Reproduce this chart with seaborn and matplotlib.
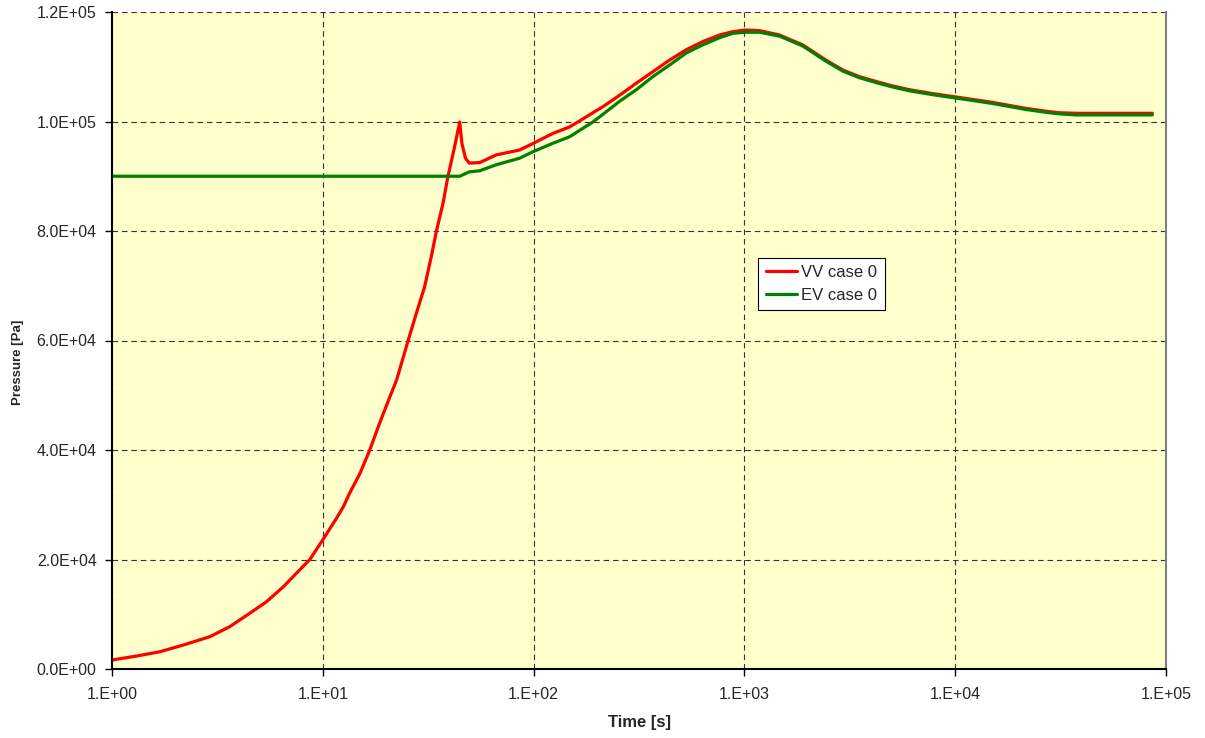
import matplotlib
matplotlib.use("Agg")
import matplotlib.pyplot as plt
import seaborn as sns
import pandas as pd

# Pressure histories (time in s, pressure in Pa)
t_vv = [1.0, 1.31, 1.69, 2.18, 2.91, 3.62, 4.51, 5.41, 6.49, 7.5, 8.68, 10.0,
        11.6, 12.5, 13.4, 15.0, 16.7, 18.6, 20.8, 22.4, 25.4, 27.8, 30.4,
        32.7, 34.6, 37.2, 39.2, 42.2, 44.6, 45.7, 47.5, 49.5, 55.5, 66.5,
        85.9, 99.6, 123, 148, 162, 213, 256, 307, 368, 441, 529, 635, 762,
        880, 1000, 1180, 1466, 1890, 2110, 2440, 2930, 3510, 4220, 5050,
        6070, 7820, 10000, 15000, 21600, 27900, 31100, 37300, 44800, 86100]
p_vv = [1640, 2370, 3160, 4380, 5900, 7730, 10200, 12300, 15000, 17500,
        20000, 23600, 27500, 29600, 32100, 35700, 40000, 44900, 49700, 52800,
        60000, 65000, 69800, 75300, 80000, 85100, 89900, 95400, 99900, 96000,
        93300, 92400, 92500, 93900, 94800, 96000, 97800, 99000, 99900, 102700,
        104800, 107000, 109100, 111200, 113100, 114600, 115800, 116400,
        116700, 116600, 115800, 114000, 112800, 111200, 109400, 108200,
        107300, 106500, 105800, 105100, 104500, 103500, 102400, 101800,
        101600, 101500, 101500, 101500]

t_ev = [1.0, 44.6, 49.5, 55.5, 66.5, 85.9, 99.6, 123, 148, 191, 213, 256,
        307, 368, 441, 529, 635, 762, 880, 1000, 1180, 1466, 1890, 2110,
        2440, 2930, 3510, 4220, 5050, 6070, 7820, 10000, 15000, 21600,
        27900, 31100, 37300, 44800, 86100]
p_ev = [90000, 90000, 90800, 91000, 92100, 93300, 94500, 96000, 97200,
        99900, 101300, 103700, 105800, 108200, 110300, 112500, 114000,
        115300, 116100, 116300, 116300, 115600, 113800, 112600, 111000,
        109200, 108000, 107100, 106300, 105600, 104900, 104300, 103300,
        102200, 101600, 101400, 101200, 101200, 101200]

series_names = ["VV case 0", "EV case 0"]
series_colors = ["#FF0000", "#008000"]

df = pd.concat([
    pd.DataFrame({"Time": t_vv, "Pressure": p_vv, "Series": series_names[0]}),
    pd.DataFrame({"Time": t_ev, "Pressure": p_ev, "Series": series_names[1]}),
], ignore_index=True)

sns.set_style("ticks")
plt.rcParams["font.family"] = ["Liberation Sans", "DejaVu Sans"]

fig = plt.figure(figsize=(12.05, 7.38), dpi=100)
ax = fig.add_axes([112 / 1205, 1 - 669 / 738, (1166 - 112) / 1205, (669 - 12) / 738])
ax.set_facecolor("#FFFFCC")

sns.lineplot(data=df, x="Time", y="Pressure", hue="Series",
             palette=dict(zip(series_names, series_colors)),
             estimator=None, sort=False, linewidth=2.3, ax=ax)

ax.set_xscale("log")
ax.set_xlim(1, 1e5)
ax.set_ylim(0, 1.2e5)

xt = [1, 10, 100, 1000, 10000, 100000]
ax.set_xticks(xt)
ax.set_xticklabels(["1.E+00", "1.E+01", "1.E+02", "1.E+03", "1.E+04", "1.E+05"])
ax.xaxis.set_minor_locator(matplotlib.ticker.NullLocator())
yt = [0, 20000, 40000, 60000, 80000, 100000, 120000]
ax.set_yticks(yt)
ax.set_yticklabels(["0.0E+00", "2.0E+04", "4.0E+04", "6.0E+04", "8.0E+04",
                    "1.0E+05", "1.2E+05"])

ax.tick_params(axis="both", labelsize=11.5, direction="out", length=5,
               width=1, color="black", pad=6)
ax.tick_params(axis="x", pad=8)

ax.grid(True, which="major", color="#333333", linestyle=(0, (5, 3.5)),
        linewidth=0.8)
ax.set_axisbelow(True)

for s in ["left", "bottom"]:
    ax.spines[s].set_color("black")
    ax.spines[s].set_linewidth(1.5)
ax.spines["top"].set_visible(False)
ax.spines["right"].set_color("#808080")
ax.spines["right"].set_linewidth(1.5)

ax.set_xlabel("Time [s]", fontsize=12, fontweight="bold", labelpad=9)
ax.set_ylabel("Pressure [Pa]", fontsize=9.5, fontweight="bold")
ax.yaxis.set_label_coords(-0.0835, 0.467)

leg = ax.legend(loc="upper left", bbox_to_anchor=(0.613, 0.626),
                borderaxespad=0, frameon=True, fancybox=False, fontsize=12,
                handlelength=1.9, handletextpad=0.25, borderpad=0.45,
                labelspacing=0.45)
leg.get_frame().set_edgecolor("black")
leg.get_frame().set_linewidth(0.8)
leg.get_frame().set_facecolor("white")
leg.get_frame().set_alpha(1)

fig.savefig("out.png", dpi=100)
